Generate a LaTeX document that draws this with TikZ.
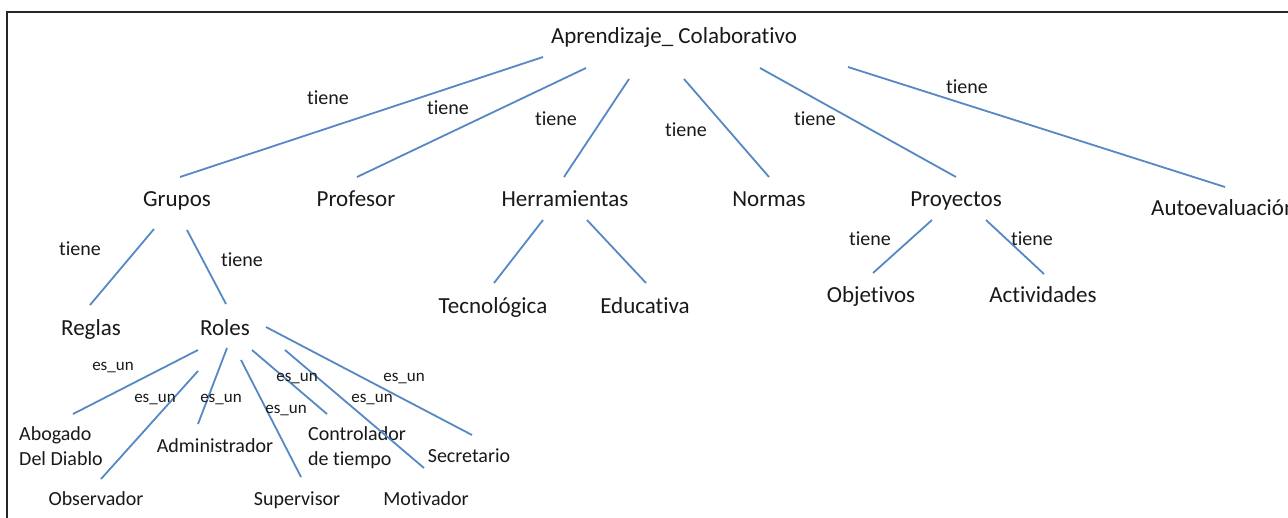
\documentclass[tikz,border=0pt]{standalone}
\usepackage{fontspec}
\setmainfont{Carlito}[Ligatures=NoCommon]
\definecolor{linkblue}{RGB}{86,136,196}
\definecolor{txt}{RGB}{25,25,25}
\begin{document}
\begin{tikzpicture}[x=1pt,y=-1pt,
  big/.style={inner sep=0pt, anchor=base, text=txt, font=\fontsize{23}{28}\selectfont},
  small/.style={inner sep=0pt, anchor=base, text=txt, font=\fontsize{20}{25}\selectfont},
  tienelbl/.style={inner sep=0pt, anchor=center, text=txt, font=\fontsize{20}{24}\selectfont},
  esunlbl/.style={inner sep=0pt, anchor=center, text=txt, font=\fontsize{17}{20}\selectfont},
  link/.style={draw=linkblue, line width=1.8pt},
  frame/.style={draw=black!85, line width=1.6pt}]
\useasboundingbox (0,0) rectangle (1288,517);
\clip (0,0) rectangle (1288,517);
\fill[white] (0,0) rectangle (1288,517);
\draw[frame] (1290,12) -- (7,12) -- (7,519);

% nodes
\node[big] (root) at (674,43) {Aprendizaje\_ Colaborativo};
\node[big] (grupos) at (177,206) {Grupos};
\node[big] (profesor) at (356,206) {Profesor};
\node[big] (herr) at (565,206) {Herramientas};
\node[big] (normas) at (769,206) {Normas};
\node[big] (proy) at (956,206) {Proyectos};
\node[big, anchor=base west] (auto) at (1151,215) {Autoevaluación};
\node[big] (reglas) at (91,335) {Reglas};
\node[big] (roles) at (225,335) {Roles};
\node[big] (tecno) at (493,313) {Tecnológica};
\node[big] (educ) at (645,313) {Educativa};
\node[big] (obj) at (871,302) {Objetivos};
\node[big] (act) at (1043,302) {Actividades};
\node[small, anchor=base west, align=left] (abogado) at (19,465) {Abogado\\Del Diablo};
\node[small] (observ) at (96,505) {Observador};
\node[small] (admin) at (215,452) {Administrador};
\node[small] (superv) at (297,505) {Supervisor};
\node[small, anchor=base west, align=left] (control) at (308,465) {Controlador\\de tiempo};
\node[small] (motiv) at (426,505) {Motivador};
\node[small] (secret) at (469,462) {Secretario};

% connectors
\draw[link] ([shift={(-131,14)}]root.base) -- ([shift={(3,-29)}]grupos.base);
\draw[link] ([shift={(-88,25)}]root.base) -- ([shift={(1,-29)}]profesor.base);
\draw[link] ([shift={(-45,36)}]root.base) -- ([shift={(-1,-29)}]herr.base);
\draw[link] ([shift={(10,36)}]root.base) -- ([shift={(0,-29)}]normas.base);
\draw[link] ([shift={(86,25)}]root.base) -- ([shift={(0,-29)}]proy.base);
\draw[link] ([shift={(174,24)}]root.base) -- ([shift={(74,-28)}]auto.base west);
\draw[link] ([shift={(-23,23)}]grupos.base) -- ([shift={(-1,-30)}]reglas.base);
\draw[link] ([shift={(10,24)}]grupos.base) -- ([shift={(1,-31)}]roles.base);
\draw[link] ([shift={(-22,14)}]herr.base) -- ([shift={(1,-30)}]tecno.base);
\draw[link] ([shift={(22,14)}]herr.base) -- ([shift={(1,-30)}]educ.base);
\draw[link] ([shift={(-24,14)}]proy.base) -- ([shift={(2,-29)}]obj.base);
\draw[link] ([shift={(30,14)}]proy.base) -- ([shift={(1,-28)}]act.base);
\draw[link] ([shift={(-27,15)}]roles.base) -- ([shift={(54,-51)}]abogado.base west);
\draw[link] ([shift={(-27,36)}]roles.base) -- ([shift={(5,-26)}]observ.base);
\draw[link] ([shift={(2,13)}]roles.base) -- ([shift={(-17,-28)}]admin.base);
\draw[link] ([shift={(16,25)}]roles.base) -- ([shift={(4,-28)}]superv.base);
\draw[link] ([shift={(27,15)}]roles.base) -- ([shift={(19,-51)}]control.base west);
\draw[link] ([shift={(60,15)}]roles.base) -- ([shift={(-2,-37)}]motiv.base);
\draw[link] ([shift={(41,-8)}]roles.base) -- ([shift={(3,-27)}]secret.base);

% labels
\node[tienelbl] (t1) at (328,98) {tiene};
\node[tienelbl] (t2) at (448,108) {tiene};
\node[tienelbl] (t3) at (556,119) {tiene};
\node[tienelbl] (t4) at (686,130) {tiene};
\node[tienelbl] (t5) at (815,119) {tiene};
\node[tienelbl] (t6) at (967,87) {tiene};
\node[tienelbl] (t7) at (80,249) {tiene};
\node[tienelbl] (t8) at (242,260) {tiene};
\node[tienelbl] (t9) at (870,239) {tiene};
\node[tienelbl] (t10) at (1032,239) {tiene};
\node[esunlbl] (e1) at (113,368) {es\_un};
\node[esunlbl] (e2) at (155,400) {es\_un};
\node[esunlbl] (e3) at (221,400) {es\_un};
\node[esunlbl] (e4) at (286,411) {es\_un};
\node[esunlbl] (e5) at (297,379) {es\_un};
\node[esunlbl] (e6) at (372,400) {es\_un};
\node[esunlbl] (e7) at (404,379) {es\_un};
\end{tikzpicture}
\end{document}
